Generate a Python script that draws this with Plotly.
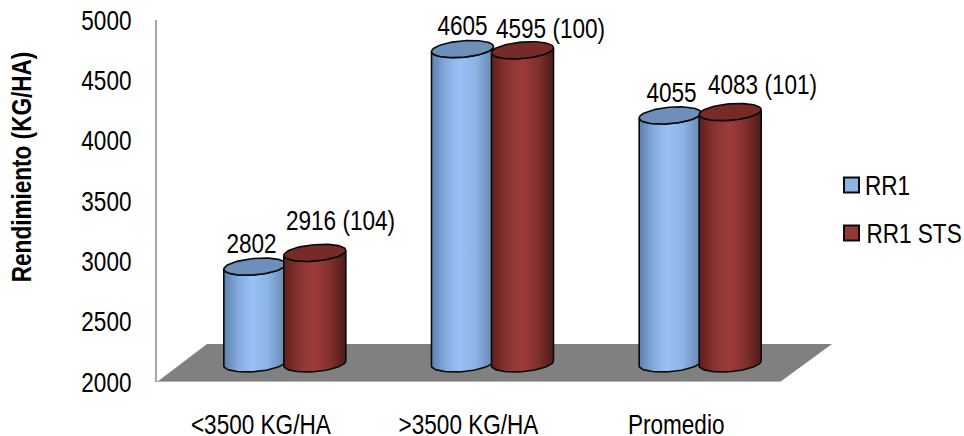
import numpy as np
import plotly.graph_objects as go

# Chart values
categories = ["<3500 KG/HA", ">3500 KG/HA", "Promedio"]
rr1 = [2802, 4605, 4055]
rr1_sts = [2916, 4595, 4083]
relative_index = [104, 100, 101]
y_ticks = [2000, 2500, 3000, 3500, 4000, 4500, 5000]

FONT = "Liberation Sans, Arial, sans-serif"
FONT_SIZE = 27.5
W, H = 964, 436
LEFT, TOP, BOTTOM, RIGHT = 157, 20, 382, 840

# Pixel lengths expressed in axis units
PX_PER_CAT = 623 / 3
PX_PER_VAL = (BOTTOM - TOP) / 3000
dx = lambda px: px / PX_PER_CAT
dy = lambda px: px / PX_PER_VAL

# 3D look: cylinders stand halfway back on a sheared floor
DEPTH_X, DEPTH_Y = 24, 18.6
HALF_GAP = 30
RX, RY, TILT = 31, 8.2, 0.08


def arc(cx, cy_val, t):
    """Points of a slightly tilted ellipse centred on (cx, cy_val) in axis units."""
    ex = RX * np.cos(t)
    ey = RY * np.sin(t) + TILT * ex
    return cx + dx(ex), cy_val + dy(ey)


def cylinder(fig, cat, value, side, stops, cap_color):
    cx = cat + dx(DEPTH_X + side * HALF_GAP)
    base = 2000 + dy(DEPTH_Y)
    top = value + dy(DEPTH_Y)
    t_front = np.linspace(np.pi, 2 * np.pi, 40)
    bx, by = arc(cx, base, np.linspace(2 * np.pi, np.pi, 40))
    tx, ty = arc(cx, top, t_front)
    fig.add_trace(go.Scatter(
        x=np.r_[tx, bx, tx[0]], y=np.r_[ty, by, ty[0]],
        mode="lines", fill="toself",
        fillgradient=dict(type="horizontal", colorscale=stops),
        line=dict(color="#0a0a0a", width=1.6),
        showlegend=False, hoverinfo="skip",
    ))
    t_full = np.linspace(0, 2 * np.pi, 80)
    ex, ey = arc(cx, top, t_full)
    fig.add_trace(go.Scatter(
        x=ex, y=ey, mode="lines", fill="toself", fillcolor=cap_color,
        line=dict(color="#0a0a0a", width=1.6),
        showlegend=False, hoverinfo="skip",
    ))


fig = go.Figure()

# Floor of the plot box
floor_x = [-0.5, -0.5 + dx(50), 2.5 + dx(52), 2.5, -0.5]
floor_y = [2000, 2000 + dy(38), 2000 + dy(38), 2000, 2000]
fig.add_trace(go.Scatter(
    x=floor_x, y=floor_y, mode="lines", fill="toself", fillcolor="#808080",
    line=dict(color="#808080", width=0), showlegend=False, hoverinfo="skip",
))
fig.add_trace(go.Scatter(
    x=[-0.5, 2.5], y=[2000, 2000], mode="lines",
    line=dict(color="#b4b4b4", width=2), showlegend=False, hoverinfo="skip",
    cliponaxis=False,
))

BLUE = [[0, "#5d80ad"], [0.22, "#83a9db"], [0.45, "#98c2f7"], [0.72, "#8bb2e4"], [1, "#6686ad"]]
RED = [[0, "#5c1f1e"], [0.28, "#8c3534"], [0.5, "#9e3b39"], [0.75, "#7f302e"], [1, "#4f1a19"]]

for i in range(len(categories)):
    cylinder(fig, i, rr1[i], -1, BLUE, "#6d8fb9")
    cylinder(fig, i, rr1_sts[i], 1, RED, "#772b29")

# Value labels sit just above each cylinder cap
blue_lift = [23, 24, 23]
blue_shift = [-3, 0, 1]
red_lift = [32, 22, 28]
red_shift = [25.5, 27.5, 32]
annotations = []
for i in range(len(categories)):
    annotations.append(dict(
        x=i + dx(DEPTH_X - HALF_GAP + blue_shift[i]), y=rr1[i] + dy(DEPTH_Y), text=str(rr1[i]),
        showarrow=False, xanchor="center", yanchor="middle", yshift=blue_lift[i],
    ))
    annotations.append(dict(
        x=i + dx(DEPTH_X + HALF_GAP + red_shift[i]), y=rr1_sts[i] + dy(DEPTH_Y),
        text=f"{rr1_sts[i]} ({relative_index[i]})",
        showarrow=False, xanchor="center", yanchor="middle", yshift=red_lift[i],
    ))

to_x = lambda p: (p - LEFT) / (RIGHT - LEFT)
to_y = lambda p: (BOTTOM - p) / (BOTTOM - TOP)

# Axis title
annotations.append(dict(
    xref="paper", yref="paper", x=to_x(21), y=to_y(167.5),
    text="Rendimiento (KG/HA)", textangle=-90, showarrow=False,
    xanchor="center", yanchor="middle",
    font=dict(family=FONT, size=FONT_SIZE, weight=700, color="#000000"),
))

# Series key
shapes = []
for name, color, cy, text_mid in (("RR1", "#8db4e3", 185, 887), ("RR1 STS", "#953735", 233, 913.5)):
    shapes.append(dict(
        type="rect", xref="paper", yref="paper",
        x0=to_x(844), x1=to_x(859), y0=to_y(cy - 7.5), y1=to_y(cy + 7.5),
        fillcolor=color, line=dict(color="#0a0a0a", width=2),
    ))
    annotations.append(dict(
        xref="paper", yref="paper", x=to_x(text_mid), y=to_y(cy), text=name,
        showarrow=False, xanchor="center", yanchor="middle",
    ))

fig.update_layout(
    width=W, height=H,
    margin=dict(l=LEFT, r=W - RIGHT, t=TOP, b=H - BOTTOM, autoexpand=False),
    paper_bgcolor="#ffffff", plot_bgcolor="#ffffff",
    font=dict(family=FONT, size=FONT_SIZE, color="#000000"),
    annotations=annotations, shapes=shapes, showlegend=False,
    xaxis=dict(
        range=[-0.5, -0.5 + dx(RIGHT - LEFT)], tickvals=[0, 1, 2], ticktext=categories,
        showgrid=False, zeroline=False, showline=False, ticks="",
        ticklabelstandoff=23,
    ),
    yaxis=dict(
        range=[2000, 5000], tickvals=y_ticks, showgrid=False, zeroline=False,
        showline=True, linecolor="#a6a6a6", linewidth=2, ticks="",
        ticklabelstandoff=18,
    ),
)

# Narrow the lettering: no condensed face is available, so compress each string
narrow_text = """
document.querySelectorAll('.main-svg text').forEach(function (t) {
  var w = t.getComputedTextLength();
  if (w > 0) {
    t.setAttribute('textLength', w * 0.82);
    t.setAttribute('lengthAdjust', 'spacingAndGlyphs');
  }
});
"""

fig.write_html("out.html", post_script=narrow_text)
